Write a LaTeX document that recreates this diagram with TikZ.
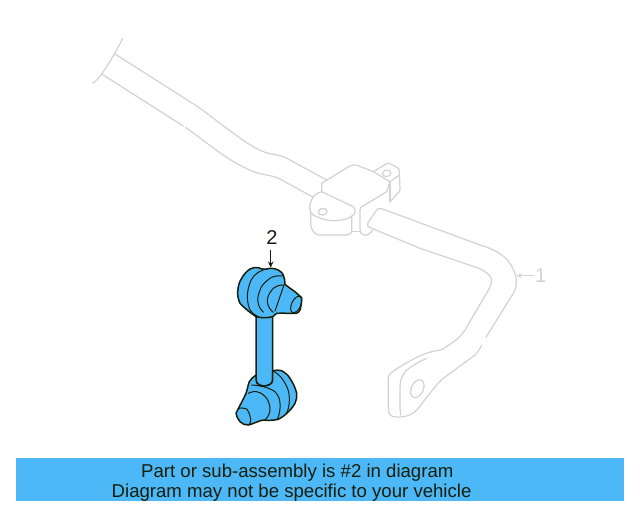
\documentclass[tikz,border=0pt]{standalone}
\usepackage{fontspec}
\setmainfont{Liberation Sans}
\usetikzlibrary{arrows.meta}
\definecolor{partblue}{HTML}{4DB8F8}
\definecolor{ghost}{HTML}{D2D2D2}
\definecolor{ink}{HTML}{141E0A}
\tikzset{
  ghostline/.style={draw=ghost,line width=1.2pt,line cap=round,line join=round},
  inkline/.style={draw=ink,line width=1pt,line cap=round,line join=round},
  inkbold/.style={draw=ink,line width=1.5pt,line cap=round,line join=round,fill=partblue},
  banner/.style={font=\fontsize{18.6}{20}\selectfont,text=ink,anchor=base west,inner sep=0pt},
  callout/.style={font=\fontsize{20}{20}\selectfont,inner sep=0pt,anchor=base},
}
\begin{document}
\begin{tikzpicture}[x=1pt,y=-1pt]
\useasboundingbox (0,0) rectangle (640,512);
\fill[white] (0,0) rectangle (640,512);
% ---- stabiliser bar (grey)
\draw[ghostline] (122.7,38.3) .. controls (118,48) and (110,62) .. (101.7,74) .. controls (99,78) and (96,81) .. (92.7,83.3);
\draw[ghostline] (115,54) -- (190,101.7) .. controls (205,111) and (215,120) .. (226.7,128.3) .. controls (240,138) and (250,146) .. (263.3,151.7) .. controls (272,155) and (280,154) .. (290,160) -- (326.7,180);
\draw[ghostline] (101.7,74) -- (183.3,126);
\draw[ghostline] (185.3,127.3) .. controls (198,136) and (210,146) .. (223.3,155) .. controls (233,162) and (243,167) .. (253.3,171.7) .. controls (263,175) and (272,175) .. (280,179) -- (313.3,197.3);
% bracket
\draw[ghostline] (321.7,191.7) -- (321.7,183.3) -- (349,166.5) .. controls (352,164.5) and (356,164.5) .. (359,166) -- (373.3,171.7) -- (386,164) .. controls (388,163) and (389,163) .. (391,164) -- (397,167.5) .. controls (399,168.5) and (399.3,169) .. (399.3,171) -- (400,189) .. controls (400,191) and (399.5,192) .. (398,193) -- (390,201.7);
\draw[ghostline] (373.3,171.7) -- (390,181.7) -- (399.3,175);
\draw[ghostline] (390,181.7) -- (390,201.7);
\draw[ghostline] (390,181.7) -- (386.7,191.7) -- (363,206) .. controls (361,207) and (360,208) .. (360,210) -- (360,228.3) .. controls (360,232) and (361,234) .. (364,235) .. controls (368,236) and (370,233) .. (373,230);
\draw[ghostline] (321.7,191.7) .. controls (317,193) and (312,196) .. (311.7,200) .. controls (309.5,204) and (309.5,208) .. (310,210) .. controls (311,214) and (314,216) .. (316.7,216.7) .. controls (322,219) and (328,220.7) .. (333.3,220.7) .. controls (340,220.7) and (345,219.5) .. (348.3,218.3) .. controls (352,216) and (355,214) .. (355,211.7) .. controls (355,209) and (354.5,207.5) .. (353.3,206.7) -- cycle;
\draw[ghostline] (310.7,213.3) -- (310.7,225) .. controls (311,229) and (315,235) .. (318.3,235) -- (346.7,235) .. controls (349,235) and (351.7,233) .. (351.7,231.7) -- (351.7,217);
\draw[ghostline] (351.7,231.7) -- (360,231.7);
\draw[ghostline,rotate around={10:(322.7,211.7)}] (322.7,211.7) ellipse (4.4 and 3.3);
\draw[ghostline,rotate around={10:(386.7,173.3)}] (386.7,173.3) ellipse (4.2 and 3.3);
% bar end
\draw[ghostline] (480,245) -- (384,209.5) .. controls (380,208) and (378,208) .. (376,211) -- (368.5,222) .. controls (366.5,225) and (367.5,227) .. (371.7,228.3) -- (420,248.3) -- (478,268) .. controls (482,269) and (491,275) .. (491.7,279) .. controls (491.7,283) and (490,287) .. (489,289) -- (465,330) .. controls (462,334) and (460,337) .. (456,340) -- (446,347) .. controls (443,349.5) and (441,350) .. (438,350.5) .. controls (425,352) and (413,359) .. (400,366.7) .. controls (393,371) and (388.3,374) .. (388.3,378) -- (388.3,403.3) .. controls (388.3,410) and (388,414) .. (391.7,416) .. controls (396,418) and (400,416.8) .. (403.3,416.7) .. controls (408,416) and (413,414) .. (416.7,410) .. controls (422,404) and (425,399) .. (430,393.3) .. controls (434,388) and (438,383) .. (443.3,378.3) -- (475,355) .. controls (478,352) and (480,349) .. (481.7,345);
\draw[ghostline] (480,245) .. controls (490,248) and (497,251) .. (503,256) .. controls (510,261) and (514,270) .. (516,277) .. controls (517,284) and (516,289) .. (513.3,293.3) -- (486,337.3);
\draw[ghostline] (426.7,358.3) .. controls (418,362) and (412,366) .. (406.7,370) .. controls (402,375) and (400,381) .. (400,386.7) -- (400,406) .. controls (400,410) and (400.5,412) .. (400.7,415);
\draw[ghostline,rotate around={-25:(417.3,388.7)}] (417.3,388.7) ellipse (6 and 9.5);
% ---- label 1
\node[callout,text=ghost,anchor=base west] (one) at (535,282) {1};
\coordinate (oneTip) at (516.7,275.7);
\draw[ghostline,-{Stealth[length=5pt,width=5pt]}] (one.west |- oneTip) ++(-1,0) -- (oneTip);
% ---- link: shaft
\path[inkbold] (256,312) -- (256,380) .. controls (256,385) and (262,386) .. (264,386) .. controls (268,386) and (272.7,384) .. (272.7,380) -- (272.7,312) -- cycle;
% top joint
\path[inkbold] (256,316.7) .. controls (253,314) and (250,313) .. (248.3,311) .. controls (245,308) and (242,306) .. (240,303.3) .. controls (238,299) and (237.5,295) .. (237.7,291.7) .. controls (238,287) and (239,282) .. (241.7,278.3) .. controls (244,274) and (247,271) .. (250,269) .. controls (253,267.5) and (256,267) .. (258.3,267.7) .. controls (262,269.5) and (266,269.5) .. (270,268.3) .. controls (273,268) and (276,269) .. (278.3,270) .. controls (281,272) and (283,273) .. (283.3,275) .. controls (284.5,278) and (285,281) .. (285,284.3) .. controls (288,287) and (292,289.5) .. (295,291.7) -- (301.7,297.7) .. controls (301.5,302) and (301,307) .. (300,310) .. controls (299,312) and (297.5,313.3) .. (296,313.3) .. controls (290,313.5) and (283,313) .. (276.7,313.3) .. controls (275,314.5) and (274,315.5) .. (272.7,316.7) .. controls (268,318) and (261,318) .. (256,316.7) -- cycle;
\draw[inkline] (263.3,270) .. controls (256,272) and (251,278) .. (249,286) .. controls (246.5,294) and (247,303) .. (250,310) .. controls (252,313) and (255,315.5) .. (258.3,316.7);
\draw[inkline] (283.3,276) .. controls (278,275.5) and (273,276) .. (270,278.3) .. controls (265,282) and (261,286) .. (260,290) .. controls (258,295) and (257,300) .. (258.3,303.3) .. controls (259,307) and (261,310) .. (263.3,312.3);
\draw[inkline] (284,285) .. controls (279,285) and (276,286) .. (273.3,288.3) .. controls (270,292) and (267.5,296) .. (267.3,300) .. controls (267,305) and (270,310) .. (273.3,312.3);
\draw[inkline] (284,285) -- (275,311);
\draw[inkline,rotate around={-25:(296.2,304.5)}] (296.2,304.5) ellipse (4.6 and 8.8);
% bottom joint
\path[inkbold] (272.7,370.7) .. controls (276,370) and (279,370) .. (281.7,370.7) .. controls (285,372.5) and (288,375) .. (290,378.3) .. controls (293,383) and (295.5,388) .. (296.7,393.3) .. controls (297,397) and (296.5,400) .. (295,403.3) .. controls (293,407) and (290,410.5) .. (286.7,413.3) .. controls (284,416) and (281,418) .. (278.3,419.3) .. controls (273,420.5) and (268,420.5) .. (263.3,420) .. controls (258,421) and (253,424) .. (248.3,425) .. controls (245,425) and (242,424) .. (240,421.7) .. controls (238,419) and (236,416) .. (236,413.3) .. controls (239,407) and (243,400) .. (246,393.3) .. controls (247.5,389) and (248,385) .. (249.3,381.7) .. controls (251,379) and (253,377) .. (256,375) -- (256,380) .. controls (256,385) and (262,386) .. (264,386) .. controls (268,386) and (272.7,384) .. (272.7,380) -- cycle;
\draw[inkline] (272.7,370.7) .. controls (279,374) and (283,379) .. (285,383.3) .. controls (288,388) and (289.3,393) .. (289.3,398.3) .. controls (289.5,404) and (288.5,409) .. (286.7,413.3);
\draw[inkline] (251.7,385) .. controls (260,385.5) and (268,387) .. (275,391.7) .. controls (278,395) and (280,399) .. (280,403.3) .. controls (280.5,409) and (279.5,414) .. (277.3,419.3);
\draw[inkline] (248.3,393.3) .. controls (251,392) and (254,391) .. (256.7,391.7) .. controls (261,392.5) and (264,395) .. (266.7,398.3) .. controls (269,402) and (270,406) .. (270,410) .. controls (269.5,414) and (268,417) .. (265,420);
\draw[inkline] (237.7,409.3) .. controls (240,407.5) and (244,407.5) .. (246.7,409) .. controls (249,412) and (251,417) .. (250.7,421.7) .. controls (250.5,423) and (250,424) .. (249,425);
% ---- label 2
\node[callout,text=ink] (two) at (272,244) {2};
\coordinate (twoTip) at (270.7,267.5);
\draw[draw=ink,line width=1pt,-{Stealth[length=6pt,width=5.5pt]}] (270.7,250) -- (twoTip);
% ---- banner
\fill[partblue] (16,458) rectangle (624,501);
\node[banner] (lineone) at (141,477) {Part or sub-assembly is \#2 in diagram};
\node[banner] (linetwo) at (111.5,497) {Diagram may not be specific to your vehicle};
\end{tikzpicture}
\end{document}
